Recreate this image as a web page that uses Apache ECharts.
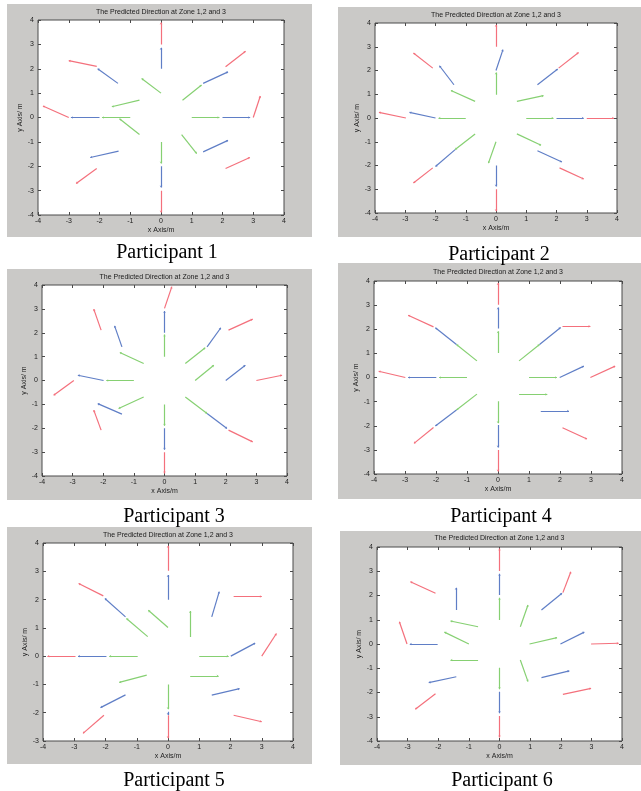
<!DOCTYPE html>
<html>
<head>
<meta charset="utf-8">
<script src="https://cdn.jsdelivr.net/npm/echarts@6/dist/echarts.min.js"></script>
<style>
html,body{margin:0;padding:0;background:#fff;}
#c{width:641px;height:791px;}
</style>
</head>
<body>
<div id="c"></div>
<script>
// Each segment: [xStart, yStart, xEnd, yEnd] in metres
var p1Red   = [[0,3,0,3.9],[2.1,2.08,2.75,2.72],[3,0,3.23,0.88],[2.1,-2.09,2.89,-1.64],[0,-3,0,-3.9],[-2.09,-2.09,-2.76,-2.71],[-3,0,-3.84,0.47],[-2.09,2.1,-3.0,2.33]];
var p1Blue  = [[0,2,0,2.86],[1.37,1.4,2.18,1.87],[2,0,2.9,0],[1.37,-1.41,2.18,-0.94],[0,-2,0,-2.87],[-1.38,-1.38,-2.3,-1.64],[-2,0,-2.93,0],[-1.4,1.4,-2.06,2.0]];
var p1Green = [[0,1,-0.63,1.6],[0.7,0.71,1.32,1.33],[1,0,1.9,0],[0.67,-0.7,1.16,-1.48],[0,-1,0,-1.89],[-0.7,-0.7,-1.35,-0.05],[-1,0,-1.92,0],[-0.7,0.71,-1.6,0.44]];

var p2Red   = [[0,3,0,3.93],[2.07,2.1,2.73,2.76],[3,0,3.9,0],[2.1,-2.1,2.9,-2.57],[0,-3,0,-3.93],[-2.09,-2.1,-2.73,-2.74],[-2.98,0,-3.87,0.24],[-2.09,2.1,-2.73,2.74]];
var p2Blue  = [[0,2,0.23,2.88],[1.37,1.4,2.04,2.06],[2,0,2.9,0],[1.37,-1.38,2.18,-1.85],[0,-2,0,-2.88],[-1.35,-1.33,-2.0,-2.04],[-2,0,-2.86,0.24],[-1.39,1.4,-1.87,2.2]];
var p2Green = [[0,0.98,0,1.92],[0.69,0.7,1.57,0.94],[1,0,1.9,0],[0.69,-0.67,1.49,-1.15],[0,-1,-0.25,-1.9],[-0.69,-0.67,-1.35,-1.33],[-1,0,-1.9,0],[-0.69,0.7,-1.49,1.16]];

var p3Red   = [[0,3.02,0.24,3.93],[2.09,2.11,2.88,2.57],[3,0,3.84,0.22],[2.09,-2.08,2.88,-2.57],[0,-3,0,-3.9],[-2.07,-2.08,-2.31,-1.24],[-2.96,0,-3.62,-0.62],[-2.07,2.11,-2.31,2.99]];
var p3Blue  = [[0,2,0,2.91],[1.39,1.41,1.84,2.21],[2,0,2.64,0.64],[1.39,-1.38,2.04,-2.01],[0,-2,0,-2.9],[-1.39,-1.41,-2.18,-0.97],[-1.99,0,-2.83,0.22],[-1.39,1.41,-1.63,2.29]];
var p3Green = [[0,1,0,1.93],[0.68,0.71,1.33,1.37],[1,0,1.61,0.64],[0.68,-0.69,1.39,-1.38],[0,-1,0,-1.9],[-0.68,-0.69,-1.5,-1.17],[-1,0,-1.9,0],[-0.68,0.71,-1.46,1.17]];

var p4Red   = [[0,3.02,0,3.92],[2.08,2.12,2.98,2.12],[2.98,0,3.78,0.47],[2.08,-2.08,2.87,-2.55],[0,-3,0,-3.9],[-2.08,-2.07,-2.71,-2.73],[-2.99,0,-3.85,0.26],[-2.08,2.1,-2.9,2.58]];
var p4Blue  = [[0,2.03,0,2.9],[1.34,1.37,2.02,2.07],[1.99,0,2.77,0.47],[1.38,-1.39,2.29,-1.39],[0,-1.97,0,-2.9],[-1.34,-1.35,-2.02,-2.01],[-1.99,0,-2.9,0],[-1.34,1.37,-2.02,2.06]];
var p4Green = [[0,1.02,0,1.92],[0.68,0.69,1.34,1.37],[1,0,1.9,0],[0.68,-0.7,1.59,-0.7],[0,-0.98,0,-1.9],[-0.68,-0.69,-1.34,-1.35],[-1,0,-1.9,0],[-0.68,0.69,-1.34,1.37]];

var p5Red   = [[0,3.02,0,3.9],[2.1,2.11,3.0,2.11],[3,0,3.47,0.8],[2.1,-2.09,3.0,-2.32],[0,-2.09,0,-2.9],[-2.05,-2.09,-2.72,-2.73],[-2.96,0,-3.86,0],[-2.07,2.13,-2.86,2.57]];
var p5Blue  = [[0,1.99,0,2.87],[1.4,1.39,1.64,2.28],[2.01,0,2.79,0.46],[1.4,-1.38,2.29,-1.15],[0,-1.97,0,-2.08],[-1.36,-1.37,-2.16,-1.82],[-1.97,0,-2.88,0],[-1.36,1.39,-2.02,2.04]];
var p5Green = [[0,1.01,-0.63,1.62],[0.71,0.68,0.71,1.6],[1,0,1.94,0],[0.71,-0.7,1.62,-0.7],[0,-1,0,-1.88],[-0.68,-0.67,-1.56,-0.93],[-0.97,0,-1.88,0],[-0.65,0.69,-1.33,1.33]];

var p6Red   = [[0,3.01,0,3.94],[2.07,2.12,2.33,2.98],[2.99,0,3.89,0.03],[2.07,-2.08,2.99,-1.83],[0,-2.97,0,-3.86],[-2.09,-2.05,-2.75,-2.69],[-3.02,0,-3.27,0.92],[-2.09,2.09,-2.91,2.57]];
var p6Blue  = [[0,2.02,0,2.9],[1.37,1.4,2.04,2.09],[1.99,0,2.77,0.49],[1.37,-1.39,2.28,-1.11],[0,-1.97,0,-2.86],[-1.41,-1.35,-2.31,-1.59],[-2.02,0,-2.93,0],[-1.42,1.4,-1.42,2.32]];
var p6Green = [[0,0.99,0,1.91],[0.68,0.71,0.93,1.61],[0.98,0,1.88,0.26],[0.68,-0.66,0.93,-1.55],[0,-0.98,0,-1.87],[-0.7,-0.66,-1.6,-0.66],[-1,0,-1.8,0.49],[-0.7,0.71,-1.6,0.95]];

var xRange = [-4, 4];
var yRanges = [[-4,4],[-4,4],[-4,4],[-4,4],[-3,4],[-4,4]];
var panelTitle = 'The Predicted Direction at Zone 1,2 and 3';
var captions = ['Participant 1','Participant 2','Participant 3','Participant 4','Participant 5','Participant 6'];
var xName = 'x Axis/m';
var yName = 'y Axis/ m';

var panels = [
  {red:p1Red, blue:p1Blue, green:p1Green},
  {red:p2Red, blue:p2Blue, green:p2Green},
  {red:p3Red, blue:p3Blue, green:p3Green},
  {red:p4Red, blue:p4Blue, green:p4Green},
  {red:p5Red, blue:p5Blue, green:p5Green},
  {red:p6Red, blue:p6Blue, green:p6Green}
];

// layout (pixels)
var grids = [
  {left:38, top:20, width:246, height:195},
  {left:375, top:23, width:242, height:190},
  {left:42, top:285, width:245, height:191},
  {left:374, top:281, width:248, height:193},
  {left:43, top:543, width:250, height:198},
  {left:377, top:547, width:245, height:194}
];
var boxes = [
  {x:7, y:4, w:305, h:233},
  {x:338, y:7, w:303, h:230},
  {x:7, y:269, w:305, h:231},
  {x:338, y:263, w:303, h:236},
  {x:7, y:527, w:305, h:237},
  {x:340, y:531, w:301, h:234}
];
var titleY = [9, 12, 274, 269, 532, 535];
var capPos = [[167,253],[499,255],[174,517],[501,517],[174,781],[502,781]];

var colors = {red:'#f4707c', blue:'#5f7ec6', green:'#86d072'};
var FONT = 'Liberation Sans, Arial, sans-serif';
var AX = '#4a4a4a';

var option = {
  animation: false,
  backgroundColor: '#ffffff',
  title: [], grid: [], xAxis: [], yAxis: [], series: [],
  graphic: {elements: []}
};

grids.forEach(function(g, i){
  option.grid.push({left:g.left, top:g.top, width:g.width, height:g.height,
    show:true, backgroundColor:'#ffffff', borderColor:AX, borderWidth:1, containLabel:false});
  option.title.push({text: panelTitle, left: g.left + g.width/2, top: titleY[i], textAlign:'center',
    textStyle:{fontSize:7, fontWeight:'normal', color:'#1a1a1a', fontFamily:FONT}, padding:0});
  var yr = yRanges[i];
  var tick = {show:true, inside:true, length:3, lineStyle:{color:AX, width:1}};
  option.xAxis.push({type:'value', gridIndex:i, min:xRange[0], max:xRange[1], interval:1, position:'bottom',
    axisLine:{show:false, onZero:false}, axisTick:tick, splitLine:{show:false},
    axisLabel:{fontSize:7, color:'#222', margin:3, fontFamily:FONT},
    name:xName, nameLocation:'middle', nameGap:12, nameTextStyle:{fontSize:7, color:'#222', fontFamily:FONT}});
  option.xAxis.push({type:'value', gridIndex:i, min:xRange[0], max:xRange[1], interval:1, position:'top',
    axisLine:{show:false, onZero:false}, axisTick:tick, splitLine:{show:false}, axisLabel:{show:false}});
  option.yAxis.push({type:'value', gridIndex:i, min:yr[0], max:yr[1], interval:1, position:'left',
    axisLine:{show:false, onZero:false}, axisTick:tick, splitLine:{show:false},
    axisLabel:{fontSize:7, color:'#222', margin:4, fontFamily:FONT},
    name:yName, nameLocation:'middle', nameGap:14, nameTextStyle:{fontSize:7, color:'#222', fontFamily:FONT}});
  option.yAxis.push({type:'value', gridIndex:i, min:yr[0], max:yr[1], interval:1, position:'right',
    axisLine:{show:false, onZero:false}, axisTick:tick, splitLine:{show:false}, axisLabel:{show:false}});

  ['green','blue','red'].forEach(function(c){
    option.series.push({
      type:'lines', coordinateSystem:'cartesian2d', xAxisIndex:2*i, yAxisIndex:2*i,
      silent:true, polyline:false,
      symbol:['none','arrow'], symbolSize:2,
      lineStyle:{color:colors[c], width:1.2, opacity:1, curveness:0},
      data: panels[i][c].map(function(s){ return {coords:[[s[0],s[1]],[s[2],s[3]]]}; })
    });
  });

  var b = boxes[i];
  option.graphic.elements.push({type:'rect', z:-100, silent:true,
    shape:{x:b.x, y:b.y, width:b.w, height:b.h}, style:{fill:'#cac9c7'}});
  option.graphic.elements.push({type:'text', z:10, silent:true, x:capPos[i][0], y:capPos[i][1],
    style:{text:captions[i], fill:'#000', font:'20px "Liberation Serif", "Times New Roman", serif',
      textAlign:'center', textVerticalAlign:'middle'}});
});

var chart = echarts.init(document.getElementById('c'), null, {renderer:'canvas'});
chart.setOption(option);
</script>
</body>
</html>
